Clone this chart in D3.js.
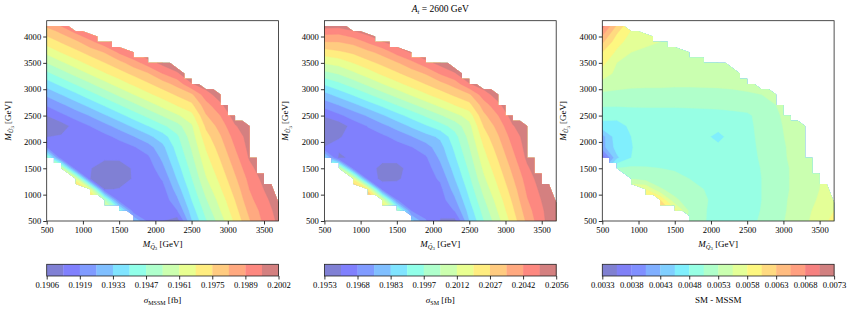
<!DOCTYPE html>
<html>
<head>
<meta charset="utf-8">
<script src="https://cdn.jsdelivr.net/npm/d3@7"></script>
<style>
body { margin: 0; background: #fff; }
svg { display: block; }
text { font-family: "Liberation Serif", "Times New Roman", serif; fill: #000; }
</style>
</head>
<body>
<div class="fig"></div>
<script>
// grid of the scan (GeV): columns = M_Q3, rows = M_U3 (top row first)
const mQ = [500, 700, 900, 1100, 1300, 1500, 1700, 1900, 2100, 2300, 2500, 2700, 2900, 3100, 3300, 3500, 3700];
const mU = [4300, 4100, 3900, 3700, 3500, 3300, 3100, 2900, 2700, 2500, 2300, 2100, 1900, 1700, 1500, 1300, 1100, 900, 700, 500];

const UNIT = 1e-5; // grids below are in units of 1e-5 fb
const _ = null;    // no point in the scan

// sigma_MSSM
const sigmaMSSM = [
  [19879,19941,19990,20017,20017,_,_,_,_,_,_,_,_,_,_,_,_],
  [19780,19833,19906,19962,20017,20017,_,_,_,_,_,_,_,_,_,_,_],
  [19707,19753,19799,19867,19929,19983,20017,_,_,_,_,_,_,_,_,_,_],
  [19627,19680,19726,19772,19819,19896,19953,20017,_,_,_,_,_,_,_,_,_],
  [19540,19595,19649,19700,19745,19791,19853,19920,19976,20017,20017,_,_,_,_,_,_],
  [19453,19508,19563,19617,19671,19718,19764,19810,19886,19943,20017,20017,_,_,_,_,_],
  [19365,19420,19476,19530,19585,19640,19691,19737,19783,19839,19948,19990,20017,_,_,_,_],
  [19277,19333,19387,19443,19499,19553,19608,19662,19710,19757,19802,19927,19990,20017,_,_,_],
  [19201,19248,19300,19355,19410,19467,19521,19575,19630,19683,19730,19858,19941,20017,20017,_,_],
  [19125,19177,19221,19267,19323,19378,19434,19489,19544,19598,19653,19810,19886,19990,20017,20017,_],
  [19070,19090,19153,19194,19239,19290,19346,19400,19456,19512,19597,19761,19844,19948,19996,20017,_],
  [19122,19132,19146,19160,19174,19212,19259,19313,19369,19456,19572,19720,19810,19913,19983,20017,_],
  [19190,19160,19139,19146,19153,19160,19187,19232,19313,19428,19547,19685,19782,19886,19976,20017,_],
  [19506,19139,19146,19139,19139,19139,19153,19181,19280,19400,19521,19658,19754,19858,19962,20017,20017],
  [19609,19609,19139,19129,19080,19082,19135,19153,19243,19368,19494,19630,19727,19830,19934,19996,20017],
  [_,19747,19644,19125,19075,19085,19132,19146,19201,19336,19466,19602,19699,19803,19906,19976,20017],
  [_,_,19817,19644,19118,19129,19139,19146,19167,19295,19434,19568,19671,19775,19886,19955,20017],
  [_,_,_,19817,19540,19146,19153,19146,19146,19248,19401,19533,19637,19747,19865,19934,19996],
  [_,_,_,_,19678,19471,19146,19153,19128,19192,19363,19499,19609,19720,19837,19913,19983],
  [_,_,_,_,_,19609,19333,19174,19125,19084,19326,19464,19575,19692,19810,19900,19969]
];

// sigma_SM - sigma_MSSM
const sigmaDiff = [
  [710,643,593,570,563,_,_,_,_,_,_,_,_,_,_,_,_],
  [670,610,578,563,558,553,_,_,_,_,_,_,_,_,_,_,_],
  [635,590,568,560,555,550,545,_,_,_,_,_,_,_,_,_,_],
  [605,575,555,550,548,545,543,543,_,_,_,_,_,_,_,_,_],
  [588,555,548,545,543,543,540,540,540,543,543,_,_,_,_,_,_],
  [570,548,543,540,540,539,538,538,538,539,540,543,_,_,_,_,_],
  [545,538,535,534,534,533,533,533,533,534,535,538,540,_,_,_,_],
  [525,524,523,523,523,523,523,524,525,526,528,530,535,540,_,_,_],
  [508,508,508,508,508,508,509,510,511,513,515,520,530,538,543,_,_],
  [490,488,493,495,495,495,495,495,496,498,501,513,528,535,543,553,_],
  [470,470,485,490,493,493,493,491,488,493,500,511,526,535,543,553,_],
  [420,470,480,489,491,491,490,486,473,490,499,510,525,534,543,553,_],
  [420,465,479,488,490,490,490,489,485,490,498,509,523,533,543,553,_],
  [355,450,480,488,489,489,489,489,489,490,496,508,521,533,543,553,563],
  [418,505,510,508,505,503,498,491,489,490,495,506,520,531,543,553,563],
  [_,518,530,520,515,510,505,498,491,490,494,505,519,531,543,554,565],
  [_,_,580,580,533,520,513,505,494,491,494,505,519,531,544,555,568],
  [_,_,_,618,605,535,518,508,498,493,495,505,519,533,545,558,573],
  [_,_,_,_,630,593,525,510,485,494,496,506,520,534,548,563,580],
  [_,_,_,_,_,580,525,510,480,495,498,508,523,535,550,568,588]
];

// sigma_SM = sigma_MSSM + (sigma_SM - sigma_MSSM)
const sigmaSM = sigmaMSSM.map((row, i) => row.map((v, j) => v == null ? null : v + sigmaDiff[i][j]));

// edge of the scanned region (M_Q3, M_U3)
const edgeTopQ = [500, 800, 900, 1000, 1200, 1200, 1400, 1400, 1500, 1700, 1700, 1900, 1900, 2200, 2400, 2400, 2500, 2500, 2600, 2700, 2800, 2900, 2900, 3000, 3000, 3100, 3100, 3200, 3300, 3300, 3400, 3400, 3500, 3500, 3600, 3700, 3700];
const edgeTopU = [4200, 4200, 4100, 4100, 4000, 3900, 3900, 3800, 3800, 3700, 3600, 3600, 3500, 3500, 3300, 3200, 3200, 3100, 3100, 3000, 3000, 2900, 2700, 2700, 2500, 2500, 2400, 2400, 2300, 1700, 1700, 1400, 1400, 1200, 1200, 850, 500];
const edgeBotQ = [1700, 1700, 1600, 1500, 1500, 1300, 1300, 1200, 1100, 1100, 900, 900, 800, 700, 700, 600, 600, 500];
const edgeBotU = [500, 600, 700, 700, 800, 800, 900, 1000, 1000, 1100, 1200, 1300, 1400, 1500, 1600, 1600, 1700, 1700];

// colour bar ranges (fb) and number of filled levels
const barRange = [[0.190555, 0.200236], [0.195335, 0.205625], [0.0033, 0.0073]];
const barBands = [14, 14, 16];
const xTicks = [500, 1000, 1500, 2000, 2500, 3000, 3500];
const yTicks = [500, 1000, 1500, 2000, 2500, 3000, 3500, 4000];

const width = 854, height = 311;
const svg = d3.select(".fig").append("svg").attr("width", width).attr("height", height);

const plotTop = 20.7, plotBottom = 221, plotW = 231.8;
const barTop = 264.3, barH = 11.7;

// matplotlib "jet", drawn at alpha 0.5 over white
const jetR = d3.scaleLinear().domain([0, 0.35, 0.66, 0.89, 1]).range([0, 0, 1, 1, 0.5]);
const jetG = d3.scaleLinear().domain([0, 0.125, 0.375, 0.64, 0.91, 1]).range([0, 0, 1, 1, 0, 0]);
const jetB = d3.scaleLinear().domain([0, 0.11, 0.34, 0.65, 1]).range([0.5, 1, 1, 0, 0]);
function bandColor(i, n) {
  const t = (i + 0.5) / n;
  return d3.rgb(127.5 + 127.5 * jetR(t), 127.5 + 127.5 * jetG(t), 127.5 + 127.5 * jetB(t)).formatHex();
}

const panels = [
  { x0: 46.7, grid: sigmaMSSM, range: barRange[0], n: barBands[0], bar: "mssm" },
  { x0: 324.4, grid: sigmaSM, range: barRange[1], n: barBands[1], bar: "sm" },
  { x0: 602.3, grid: sigmaDiff, range: barRange[2], n: barBands[2], bar: "diff" }
];

const nx = mQ.length, ny = mU.length;
const gx = d3.scaleLinear().domain([0.5, nx - 0.5]).range([mQ[0], mQ[nx - 1]]);
const gy = d3.scaleLinear().domain([0.5, ny - 0.5]).range([mU[0], mU[ny - 1]]);

panels.forEach((p, k) => {
  const x = d3.scaleLinear().domain([500, 3700]).range([p.x0, p.x0 + plotW]);
  const y = d3.scaleLinear().domain([500, 4300]).range([plotBottom, plotTop]);

  // clip to the scanned region
  const pts = edgeTopQ.map((q, i) => [x(q), y(edgeTopU[i])])
    .concat(edgeBotQ.map((q, i) => [x(q), y(edgeBotU[i])]));
  svg.append("clipPath").attr("id", "clip" + k)
    .append("path").attr("d", "M" + pts.map(d => d.join(",")).join("L") + "Z");

  const [lo, hi] = p.range;
  const thresholds = d3.range(p.n).map(i => lo + i * (hi - lo) / p.n);
  const values = p.grid.flat().map(v => v == null ? -1 : v * UNIT);
  const contours = d3.contours().size([nx, ny]).thresholds(thresholds)(values);

  const proj = d3.geoTransform({
    point: function(cx, cy) { this.stream.point(x(gx(cx)), y(gy(cy))); }
  });
  const path = d3.geoPath(proj);

  svg.append("g").attr("clip-path", "url(#clip" + k + ")")
    .selectAll("path")
    .data(contours)
    .enter().append("path")
    .attr("d", path)
    .attr("fill", (d, i) => bandColor(i, p.n))
    .attr("stroke", (d, i) => bandColor(i, p.n))
    .attr("stroke-width", 0.4);

  // axes
  const gxAxis = svg.append("g").attr("transform", `translate(0,${plotBottom})`)
    .call(d3.axisBottom(x).tickValues(xTicks).tickFormat(d3.format("d"))
      .tickSize(3.5).tickSizeOuter(0).tickPadding(2));
  const gyAxis = svg.append("g").attr("transform", `translate(${p.x0},0)`)
    .call(d3.axisLeft(y).tickValues(yTicks).tickFormat(d3.format("d"))
      .tickSize(3.5).tickSizeOuter(0).tickPadding(2));
  [gxAxis, gyAxis].forEach(g => {
    g.select(".domain").remove();
    g.selectAll("line").attr("stroke", "#000").attr("stroke-width", 0.8);
    g.selectAll("text").attr("font-size", 8.6).attr("font-family", "Liberation Serif");
  });
  svg.append("rect").attr("x", p.x0).attr("y", plotTop)
    .attr("width", plotW).attr("height", plotBottom - plotTop)
    .attr("fill", "none").attr("stroke", "#222").attr("stroke-width", 0.8);

  // axis labels
  const xl = svg.append("text").attr("x", p.x0 + plotW / 2).attr("y", 246.5)
    .attr("text-anchor", "middle").attr("font-size", 9);
  xl.append("tspan").attr("font-style", "italic").text("M");
  xl.append("tspan").attr("font-style", "italic").attr("font-size", 6.5).attr("dy", 2).text("Q\u0303");
  xl.append("tspan").attr("font-size", 4.8).attr("dy", 1.2).text("3");
  xl.append("tspan").attr("dy", -3.2).text(" [GeV]");

  const yl = svg.append("text")
    .attr("transform", `translate(${p.x0 - 36},${(plotTop + plotBottom) / 2}) rotate(-90)`)
    .attr("text-anchor", "middle").attr("font-size", 9);
  yl.append("tspan").attr("font-style", "italic").text("M");
  yl.append("tspan").attr("font-style", "italic").attr("font-size", 6.5).attr("dy", 2).text("\u0168");
  yl.append("tspan").attr("font-size", 4.8).attr("dy", 1.2).text("3");
  yl.append("tspan").attr("dy", -3.2).text(" [GeV]");

  // colour bar
  const cb = d3.scaleLinear().domain([lo, hi]).range([p.x0, p.x0 + plotW]);
  const levels = d3.range(p.n + 1).map(i => lo + i * (hi - lo) / p.n);
  svg.append("g").selectAll("rect")
    .data(d3.range(p.n))
    .enter().append("rect")
    .attr("x", i => cb(levels[i]))
    .attr("y", barTop)
    .attr("width", i => cb(levels[i + 1]) - cb(levels[i]) + 0.3)
    .attr("height", barH)
    .attr("fill", i => bandColor(i, p.n));
  svg.append("rect").attr("x", p.x0).attr("y", barTop)
    .attr("width", plotW).attr("height", barH)
    .attr("fill", "none").attr("stroke", "#222").attr("stroke-width", 0.8);
  const cbAxis = svg.append("g").attr("transform", `translate(0,${barTop + barH})`)
    .call(d3.axisBottom(cb).tickValues(levels.filter((d, i) => i % 2 === 0))
      .tickFormat(d3.format(".4f")).tickSize(3.5).tickSizeOuter(0).tickPadding(2));
  cbAxis.select(".domain").remove();
  cbAxis.selectAll("line").attr("stroke", "#000").attr("stroke-width", 0.8);
  cbAxis.selectAll("text").attr("font-size", 8.6).attr("font-family", "Liberation Serif");

  const cl = svg.append("text").attr("x", p.x0 + plotW / 2).attr("y", 302.5)
    .attr("text-anchor", "middle").attr("font-size", 9);
  if (p.bar === "diff") {
    cl.text("SM - MSSM");
  } else {
    cl.append("tspan").attr("font-style", "italic").text("\u03c3");
    cl.append("tspan").attr("font-size", 6).attr("dy", 2).text(p.bar === "mssm" ? "MSSM" : "SM");
    cl.append("tspan").attr("dy", -2).text(" [fb]");
  }
});

// title over the middle panel
const title = svg.append("text").attr("x", 324.4 + plotW / 2).attr("y", 12)
  .attr("text-anchor", "middle").attr("font-size", 9.5);
title.append("tspan").attr("font-style", "italic").text("A");
title.append("tspan").attr("font-style", "italic").attr("font-size", 6.5).attr("dy", 2).text("t");
title.append("tspan").attr("dy", -2).text(" = 2600 GeV");
</script>
</body>
</html>
